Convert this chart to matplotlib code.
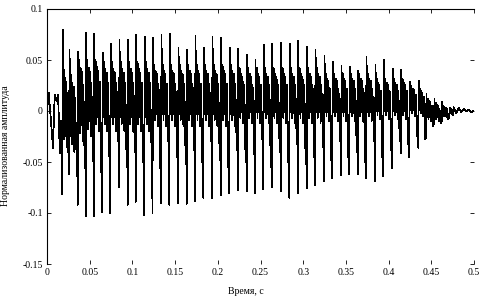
import numpy as np
import matplotlib
matplotlib.use("Agg")
import matplotlib.pyplot as plt

plt.rcParams['font.family'] = ['Liberation Serif', 'DejaVu Serif']

# times of the main pulses (s)
spike_t = [0.0179, 0.0258, 0.0359, 0.0453, 0.0547, 0.0648, 0.0741, 0.0843, 0.0945, 0.1039,
           0.1139, 0.1235, 0.1335, 0.1432, 0.1534, 0.1636, 0.1733, 0.1830, 0.1932, 0.2034,
           0.2135, 0.2233, 0.2338, 0.2436, 0.2533, 0.2631, 0.2737, 0.2837, 0.2936, 0.3041,
           0.3138, 0.3244, 0.3341, 0.3443, 0.3540, 0.3638, 0.3735, 0.3841, 0.3938, 0.4043,
           0.4142, 0.4242, 0.4348, 0.4438, 0.4532, 0.4622, 0.4711]
# negative peak of each pulse
spike_lo = [-0.082, -0.062, -0.092, -0.103, -0.103, -0.099, -0.100, -0.075, -0.092, -0.089,
            -0.102, -0.100, -0.090, -0.092, -0.090, -0.091, -0.088, -0.085, -0.085, -0.083,
            -0.081, -0.078, -0.079, -0.081, -0.077, -0.075, -0.079, -0.085, -0.081, -0.076,
            -0.073, -0.069, -0.066, -0.063, -0.062, -0.062, -0.066, -0.069, -0.064, -0.056,
            -0.041, -0.045, -0.036, -0.027, -0.013, -0.010, -0.005]
# positive peak right after it
spike_hi = [0.080, 0.060, 0.058, 0.077, 0.076, 0.057, 0.066, 0.070, 0.070, 0.075,
            0.073, 0.072, 0.075, 0.076, 0.062, 0.060, 0.074, 0.062, 0.073, 0.072,
            0.062, 0.061, 0.055, 0.050, 0.065, 0.066, 0.067, 0.066, 0.069, 0.063,
            0.060, 0.054, 0.048, 0.044, 0.043, 0.039, 0.053, 0.045, 0.050, 0.041,
            0.040, 0.029, 0.030, 0.017, 0.012, 0.009, 0.003]
# upper / lower edge of the dense part between pulses
body_hi = [0.040, 0.035, 0.050, 0.050, 0.050, 0.048, 0.048, 0.048, 0.048, 0.048,
           0.048, 0.045, 0.045, 0.045, 0.045, 0.045, 0.045, 0.045, 0.045, 0.045,
           0.045, 0.042, 0.042, 0.042, 0.042, 0.042, 0.042, 0.042, 0.042, 0.042,
           0.042, 0.036, 0.036, 0.036, 0.036, 0.036, 0.036, 0.032, 0.032, 0.032,
           0.032, 0.025, 0.022, 0.012, 0.008, 0.005, 0.003]
body_lo = [-0.035, -0.040, -0.030, -0.025, -0.020, -0.020, -0.020, -0.020, -0.020, -0.020,
           -0.020, -0.015, -0.015, -0.015, -0.015, -0.015, -0.015, -0.015, -0.015, -0.015,
           -0.015, -0.012, -0.012, -0.012, -0.012, -0.012, -0.012, -0.012, -0.012, -0.012,
           -0.012, -0.010, -0.010, -0.010, -0.010, -0.010, -0.010, -0.008, -0.008, -0.008,
           -0.008, -0.005, -0.005, -0.010, -0.010, -0.006, -0.003]
# short secondary dip before each pulse
dip = [-0.040, -0.045, -0.055, -0.035, -0.060, -0.045, -0.030, -0.055, -0.040, -0.050,
       -0.035, -0.056, -0.030, -0.045, -0.052, -0.038, -0.050, -0.030, -0.048, -0.055,
       -0.035, -0.050, -0.042, -0.028, -0.055, -0.040, -0.050, -0.032, -0.052, -0.045,
       -0.035, -0.048, -0.030, -0.045, -0.040, -0.050, -0.030, -0.045, -0.038, -0.030,
       -0.033, -0.025, -0.028, -0.015, -0.012, -0.008, -0.004]

# onset before the first pulse and decay tail after the last
lead_t = [0.0, 0.002, 0.004, 0.007, 0.009, 0.011, 0.013, 0.015, 0.0165]
lead_y = [0.0, 0.018, -0.003, -0.036, 0.016, 0.010, 0.016, -0.041, -0.010]
tail_t = [0.476, 0.479, 0.482, 0.485, 0.488, 0.491, 0.494, 0.497, 0.5]
tail_y = [0.004, -0.002, 0.003, -0.001, 0.002, 0.000, 0.001, -0.001, 0.0]

# shape of the dense part inside one period (fraction of period, 0=body_lo 1=body_hi)
body_pos = [0.14, 0.22, 0.30, 0.38, 0.46, 0.54, 0.62, 0.70, 0.78]
body_mix = [0.2, 1.0, 0.1, 0.9, 0.2, 0.85, 0.0, 0.7, 0.3]

t = list(lead_t)
y = list(lead_y)
for k in range(len(spike_t)):
    t0 = spike_t[k]
    T = spike_t[k + 1] - t0 if k + 1 < len(spike_t) else tail_t[0] - t0
    t += [t0, t0 + 0.06 * T]
    y += [spike_lo[k], spike_hi[k]]
    for f, m in zip(body_pos, body_mix):
        t.append(t0 + f * T)
        y.append(body_lo[k] + m * (body_hi[k] - body_lo[k]))
    t += [t0 + 0.88 * T, t0 + 0.94 * T]
    y += [dip[k], body_lo[k]]
t += tail_t
y += tail_y

fig = plt.figure(figsize=(4.91, 2.98), dpi=100)
ax = fig.add_axes([47 / 491, 1 - 264 / 298, 427 / 491, 255 / 298])
ax.plot(t, y, color='black', lw=0.55, antialiased=False)

ax.set_xlim(0, 0.5)
ax.set_ylim(-0.15, 0.1)
xt = [0, 0.05, 0.1, 0.15, 0.2, 0.25, 0.3, 0.35, 0.4, 0.45, 0.5]
yt = [-0.15, -0.1, -0.05, 0, 0.05, 0.1]
ax.set_xticks(xt)
ax.set_xticklabels(['0', '0.05', '0.1', '0.15', '0.2', '0.25', '0.3', '0.35', '0.4', '0.45', '0.5'])
ax.set_yticks(yt)
ax.set_yticklabels(['-0.15', '-0.1', '-0.05', '0', '0.05', '0.1'])
ax.tick_params(direction='in', length=3, width=0.6, labelsize=7, pad=3,
               top=True, right=True)
for s in ['right', 'bottom']:
    ax.spines[s].set_visible(False)
for s in ['left', 'top']:
    ax.spines[s].set_linewidth(0.8)

ax.set_xlabel('Время, с', fontsize=7)
ax.xaxis.set_label_coords(0.466, -0.09)
ax.set_ylabel('Нормализованная амплитуда', fontsize=7)
ax.yaxis.set_label_coords(-0.087, 0.463)

fig.savefig('out.png', dpi=100)
